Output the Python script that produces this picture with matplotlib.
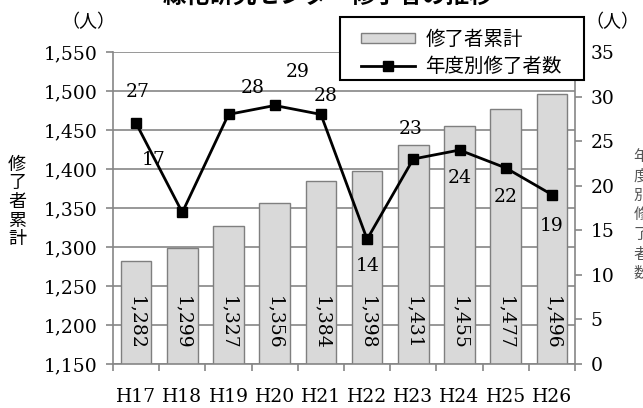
import matplotlib
matplotlib.use('Agg')
import matplotlib.pyplot as plt
import numpy as np
from matplotlib.lines import Line2D
from matplotlib.patches import Patch, Rectangle

years = ['H17', 'H18', 'H19', 'H20', 'H21', 'H22', 'H23', 'H24', 'H25', 'H26']
cumulative = [1282, 1299, 1327, 1356, 1384, 1398, 1431, 1455, 1477, 1496]
annual = [27, 17, 28, 29, 28, 14, 23, 24, 22, 19]
left_ticks = [1150, 1200, 1250, 1300, 1350, 1400, 1450, 1500, 1550]
right_ticks = [0, 5, 10, 15, 20, 25, 30, 35]

plt.rcParams['font.family'] = ['DejaVu Serif', 'Noto Sans CJK JP']
CJK = ['Noto Sans CJK JP', 'DejaVu Sans']
GRAY = '#868686'
FS = 13.5

W, H = 643, 408
fig = plt.figure(figsize=(W / 100, H / 100), dpi=100)
ax = fig.add_axes([113 / W, 1 - 364 / H, 462 / W, 312 / H])

x = np.arange(len(years))
ax.bar(x, cumulative, width=0.66, color='#d9d9d9', edgecolor='#7f7f7f', lw=1, zorder=2)
ax.set_xlim(-0.5, len(years) - 0.5)
ax.set_ylim(left_ticks[0], left_ticks[-1])
ax.set_yticks(left_ticks)
ax.set_yticklabels([f'{v:,}' for v in left_ticks], fontsize=FS)
ax.yaxis.grid(True, color=GRAY, lw=1.2, zorder=0)
ax.set_axisbelow(True)
ax.set_xticks(x)
ax.set_xticklabels(years, fontsize=FS)
ax.tick_params(axis='x', which='major', length=0, pad=17)
ax.set_xticks(np.arange(-0.5, len(years), 1), minor=True)
ax.tick_params(axis='x', which='minor', length=5, color=GRAY, width=1.2)
ax.tick_params(axis='y', length=5, color=GRAY, width=1.2, pad=6)
for s in ['top', 'right']:
    ax.spines[s].set_visible(False)
for s in ['left', 'bottom']:
    ax.spines[s].set_color(GRAY)
    ax.spines[s].set_linewidth(1.2)

for xi, v in zip(x, cumulative):
    ax.text(xi, 1203, f'{v:,}', rotation=270, ha='center', va='center', fontsize=FS, zorder=3)

ax2 = ax.twinx()
ax2.set_ylim(right_ticks[0], right_ticks[-1])
ax2.set_yticks(right_ticks)
ax2.set_yticklabels([str(v) for v in right_ticks], fontsize=FS)
ax2.tick_params(axis='y', length=5, color=GRAY, width=1.2, pad=6)
for s in ['top', 'left', 'bottom']:
    ax2.spines[s].set_visible(False)
ax2.spines['right'].set_color(GRAY)
ax2.spines['right'].set_linewidth(1.2)
ax2.plot(x, annual, color='black', lw=2, marker='s', ms=7, zorder=3)

offsets = [(2, 31), (-29, 52), (24, 26), (23, 33), (5, 18), (1, -27), (-3, 30), (0, -28), (0, -29), (0, -31)]
for xi, v, off in zip(x, annual, offsets):
    ax2.annotate(str(v), (xi, v), xytext=off, textcoords='offset pixels',
                 ha='center', va='center', fontsize=FS)

# legend frame drawn explicitly to match the reference box
fig.patches.append(Rectangle((340 / W, 1 - 80 / H), 244 / W, 63 / H, transform=fig.transFigure,
                             facecolor='white', edgecolor='black', lw=1.5, zorder=5))
handles = [Patch(facecolor='#d9d9d9', edgecolor='#7f7f7f', lw=1),
           Line2D([], [], color='black', lw=2, marker='s', ms=7)]
leg = fig.legend(handles, ['修了者累計', '年度別修了者数'], loc='upper left',
                 bbox_to_anchor=(361 / W, 1 - 29 / H), frameon=False,
                 prop={'family': CJK, 'size': 14},
                 handlelength=2.8, handleheight=0.45, borderpad=0, labelspacing=0.3,
                 handletextpad=0.5, borderaxespad=0)
leg.set_zorder(6)

fig.text(88 / W, 1 - 22 / H, '（人）', family=CJK, fontsize=13, ha='center', va='center')
fig.text(612 / W, 1 - 22 / H, '（人）', family=CJK, fontsize=13, ha='center', va='center')
fig.text(17 / W, 1 - 202 / H, '修\n了\n者\n累\n計', family=CJK, fontsize=13,
         ha='center', va='center', linespacing=1.05)
fig.text(641 / W, 1 - 215 / H, '年\n度\n別\n修\n了\n者\n数', family=CJK, fontsize=11,
         ha='center', va='center', linespacing=1.2, color='#555555')
fig.text(0.51, 1 + 4 / H, '緑化研究センター修了者の推移', family=CJK, fontsize=17,
         fontweight='bold', ha='center', va='center')

fig.savefig('out.png', dpi=100)
